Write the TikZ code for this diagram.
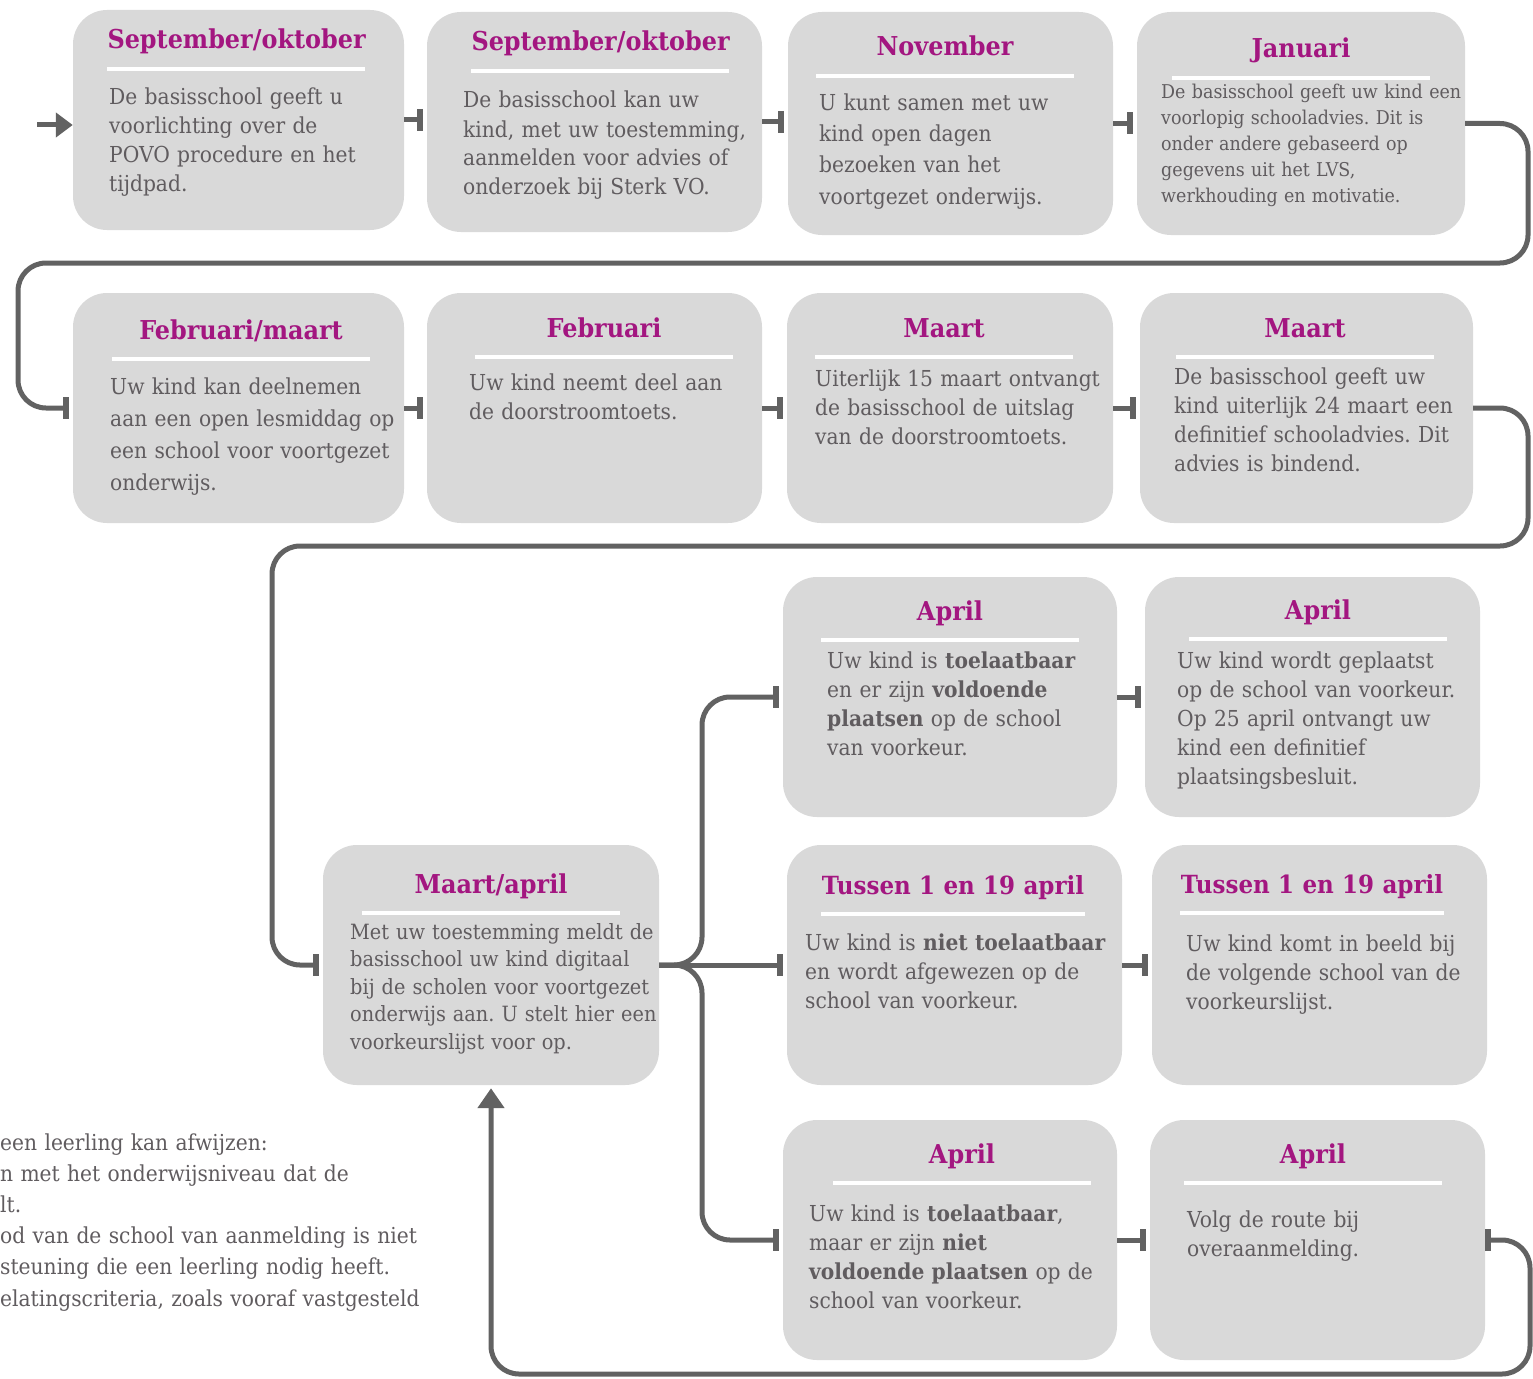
\documentclass[tikz,border=0pt]{standalone}
\usepackage{fontspec}
\setmainfont{DejaVu Serif}[FakeStretch=0.92]
\usetikzlibrary{arrows.meta}
\frenchspacing

\definecolor{kopkleur}{RGB}{163,22,128}
\definecolor{vakgrijs}{RGB}{217,217,217}
\definecolor{tekstgrijs}{RGB}{96,92,95}
\definecolor{lijngrijs}{RGB}{98,98,98}

\begin{document}
\begin{tikzpicture}[x=1pt, y=-1pt,
    stap/.style={fill=vakgrijs, rounded corners=34pt, minimum width=333pt, minimum height=240pt, inner sep=0pt},
    kop/.style={text=kopkleur, font=\fontsize{26}{30}\selectfont\bfseries, text width=257pt, align=center,
      text height=20pt, text depth=6pt, inner xsep=0pt, inner ysep=14pt},
    tekst/.style={text=tekstgrijs, font=\fontsize{22}{29}\selectfont, text width=380pt, align=left,
      inner sep=0pt, anchor=base west},
    scheiding/.style={draw=white, line width=3.5pt},
    verbinding/.style={draw=lijngrijs, line width=5pt, rounded corners=28pt},
    tee/.style={-{Bar[width=22pt, line width=6pt]}, shorten >=4pt}]
  \useasboundingbox (0,0) rectangle (1533,1378);

  % Rij 1
  \node[stap, minimum width=331pt, minimum height=220pt] (sepokt1) at (238.5,120) {};
  \node[kop] (sepokt1k) at (236,42) {September/oktober};
  \draw[scheiding] (sepokt1k.south west) -- (sepokt1k.south east);
  \node[tekst] (sepokt1t) at (109,105) {De basisschool geeft u\\voorlichting over de\\POVO procedure en het\\tijdpad.};

  \node[stap, minimum width=335pt, minimum height=220pt] (sepokt2) at (594.5,122) {};
  \node[kop] (sepokt2k) at (600,44) {September/oktober};
  \draw[scheiding] (sepokt2k.south west) -- (sepokt2k.south east);
  \node[tekst] (sepokt2t) at (463,108) {De basisschool kan uw\\kind, met uw toestemming,\\aanmelden voor advies of\\onderzoek bij Sterk VO.};

  \node[stap, minimum width=325pt, minimum height=223pt] (nov) at (950.5,123.5) {};
  \node[kop] (novk) at (945,49) {November};
  \draw[scheiding] (novk.south west) -- (novk.south east);
  \node[tekst, font=\fontsize{22}{31}\selectfont] (novt) at (819,111) {U kunt samen met uw\\kind open dagen\\bezoeken van het\\voortgezet onderwijs.};

  \node[stap, minimum width=328pt, minimum height=223pt] (jan) at (1301,123.5) {};
  \node[kop] (jank) at (1301,51) {Januari};
  \draw[scheiding] (jank.south west) -- (jank.south east);
  \node[tekst, font=\fontsize{19}{26}\selectfont] (jant) at (1161,99) {De basisschool geeft uw kind een\\voorlopig schooladvies. Dit is\\onder andere gebaseerd op\\gegevens uit het LVS,\\werkhouding en motivatie.};

  % Rij 2
  \node[stap, minimum width=331pt, minimum height=230pt] (febmrt) at (238.5,408) {};
  \node[kop] (febmrtk) at (241,332) {Februari/maart};
  \draw[scheiding] (febmrtk.south west) -- (febmrtk.south east);
  \node[tekst, font=\fontsize{22}{32}\selectfont] (febmrtt) at (110,394) {Uw kind kan deelnemen\\aan een open lesmiddag op\\een school voor voortgezet\\onderwijs.};

  \node[stap, minimum width=335pt, minimum height=230pt] (feb) at (594.5,408) {};
  \node[kop] (febk) at (604,330) {Februari};
  \draw[scheiding] (febk.south west) -- (febk.south east);
  \node[tekst] (febt) at (469,390) {Uw kind neemt deel aan\\de doorstroomtoets.};

  \node[stap, minimum width=326pt, minimum height=230pt] (mrt1) at (950,408) {};
  \node[kop] (mrt1k) at (944,330) {Maart};
  \draw[scheiding] (mrt1k.south west) -- (mrt1k.south east);
  \node[tekst] (mrt1t) at (815,386) {Uiterlijk 15 maart ontvangt\\de basisschool de uitslag\\van de doorstroomtoets.};

  \node[stap, minimum width=333pt, minimum height=230pt] (mrt2) at (1306.5,408) {};
  \node[kop] (mrt2k) at (1305,330) {Maart};
  \draw[scheiding] (mrt2k.south west) -- (mrt2k.south east);
  \node[tekst] (mrt2t) at (1174,384) {De basisschool geeft uw\\kind uiterlijk 24 maart een\\definitief schooladvies. Dit\\advies is bindend.};

  % Rij 3
  \node[stap, minimum width=334pt] (apr1) at (950,697) {};
  \node[kop] (apr1k) at (950,613) {April};
  \draw[scheiding] (apr1k.south west) -- (apr1k.south east);
  \node[tekst] (apr1t) at (827,668) {Uw kind is \textbf{toelaatbaar}\\en er zijn \textbf{voldoende}\\\textbf{plaatsen} op de school\\van voorkeur.};

  \node[stap, minimum width=335pt] (apr2) at (1312.5,697) {};
  \node[kop] (apr2k) at (1318,612) {April};
  \draw[scheiding] (apr2k.south west) -- (apr2k.south east);
  \node[tekst] (apr2t) at (1177,668) {Uw kind wordt geplaatst\\op de school van voorkeur.\\Op 25 april ontvangt uw\\kind een definitief\\plaatsingsbesluit.};

  % Rij 4
  \node[stap, minimum width=336pt] (mrtapr) at (491,965) {};
  \node[kop] (mrtaprk) at (491,886) {Maart/april};
  \draw[scheiding] (mrtaprk.south west) -- (mrtaprk.south east);
  \node[tekst, font=\fontsize{21}{27.5}\selectfont] (mrtaprt) at (350,939) {Met uw toestemming meldt de\\basisschool uw kind digitaal\\bij de scholen voor voortgezet\\onderwijs aan. U stelt hier een\\voorkeurslijst voor op.};

  \node[stap, minimum width=335pt] (tussen1) at (954.5,965) {};
  \node[kop, font=\fontsize{25}{30}\selectfont\bfseries, text width=264pt] (tussen1k) at (953,887) {Tussen 1 en 19 april};
  \draw[scheiding] (tussen1k.south west) -- (tussen1k.south east);
  \node[tekst] (tussen1t) at (805,950) {Uw kind is \textbf{niet toelaatbaar}\\en wordt afgewezen op de\\school van voorkeur.};

  \node[stap, minimum width=335pt] (tussen2) at (1319.5,965) {};
  \node[kop, font=\fontsize{25}{30}\selectfont\bfseries, text width=264pt] (tussen2k) at (1312,886) {Tussen 1 en 19 april};
  \draw[scheiding] (tussen2k.south west) -- (tussen2k.south east);
  \node[tekst] (tussen2t) at (1186,951) {Uw kind komt in beeld bij\\de volgende school van de\\voorkeurslijst.};

  % Rij 5
  \node[stap, minimum width=334pt] (apr3) at (950,1240) {};
  \node[kop] (apr3k) at (962,1156) {April};
  \draw[scheiding] (apr3k.south west) -- (apr3k.south east);
  \node[tekst] (apr3t) at (809,1221) {Uw kind is \textbf{toelaatbaar},\\maar er zijn \textbf{niet}\\\textbf{voldoende plaatsen} op de\\school van voorkeur.};

  \node[stap, minimum width=335pt] (apr4) at (1317.5,1240) {};
  \node[kop] (apr4k) at (1313,1156) {April};
  \draw[scheiding] (apr4k.south west) -- (apr4k.south east);
  \node[tekst] (apr4t) at (1187,1227) {Volg de route bij\\overaanmelding.};

  % Losse tekst linksonder
  \node[tekst, font=\fontsize{22}{31.2}\selectfont, text width=470pt] (afwijzen) at (0,1150) {een leerling kan afwijzen:\\n met het onderwijsniveau dat de\\lt.\\od van de school van aanmelding is niet\\steuning die een leerling nodig heeft.\\elatingscriteria, zoals vooraf vastgesteld};

  % Verbindingen
  \coordinate (begin) at (37,125);
  \draw[verbinding, -{Triangle[width=24pt, length=17pt]}] (begin) -- (begin -| sepokt1.west);
  \draw[verbinding, tee] (sepokt1.east) -- (sepokt1.east -| sepokt2.west);
  \draw[verbinding, tee] (sepokt2.east) -- (sepokt2.east -| nov.west);
  \draw[verbinding, tee] (nov.east) -- (nov.east -| jan.west);
  \draw[verbinding, tee] (jan.east) -| (1528,263) -| (18,408) -- (febmrt.west);
  \draw[verbinding, tee] (febmrt.east) -- (feb.west);
  \draw[verbinding, tee] (feb.east) -- (mrt1.west);
  \draw[verbinding, tee] (mrt1.east) -- (mrt2.west);
  \draw[verbinding, tee] (mrt2.east) -| (1528,546) -| (272,965) -- (mrtapr.west);
  \draw[verbinding, tee] (mrtapr.east) -- (702,965) |- (apr1.west);
  \draw[verbinding, tee] (mrtapr.east) -- (tussen1.west);
  \draw[verbinding, tee] (mrtapr.east) -- (702,965) |- (apr3.west);
  \draw[verbinding, tee] (apr1.east) -- (apr2.west);
  \draw[verbinding, tee] (tussen1.east) -- (tussen2.west);
  \draw[verbinding, tee] (apr3.east) -- (apr4.west);
  \draw[verbinding, {Bar[width=22pt, line width=6pt]}-{Triangle[width=26pt, length=20pt]}, shorten >=3pt]
    (apr4.east) -| (1530,1374) -| (mrtapr.south);
\end{tikzpicture}
\end{document}
